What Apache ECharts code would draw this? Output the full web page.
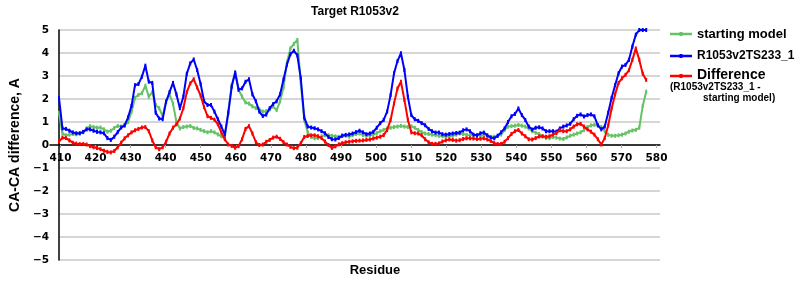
<!DOCTYPE html>
<html>
<head>
<meta charset="utf-8">
<script src="https://cdn.jsdelivr.net/npm/echarts@6/dist/echarts.min.js"></script>
<style>html,body{margin:0;padding:0;background:#fff}#c{width:800px;height:300px}</style>
</head>
<body>
<div id="c"></div>
<script>
// Residue categories (x axis extends past the last data point, as in the reference)
const residues = [
407,408,409,410,411,412,413,414,415,416,417,418,419,420,421,422,423,424,425,426,
427,428,429,430,431,432,433,434,435,436,437,438,439,440,441,442,443,444,445,446,
447,448,449,450,451,452,453,454,455,456,457,458,459,460,461,462,463,464,465,466,
467,468,469,470,471,472,473,474,475,476,477,478,479,480,481,482,483,484,485,486,
487,488,489,490,491,492,493,494,495,496,497,498,499,500,501,502,503,504,505,506,
507,508,509,510,511,512,513,514,515,516,517,518,519,520,521,522,523,524,525,526,
527,528,529,530,531,532,533,534,535,536,537,538,539,540,541,542,543,544,545,546,
547,548,549,550,551,552,553,554,555,556,557,558,559,560,561,562,563,564,565,566,
567,568,569,570,571,572,573,574,575,576,577,578,579,580,581
];

// starting model (residues 407..577)
const startingModel = [
1.4,0.5,0.42,0.45,0.48,0.47,0.5,0.55,0.72,0.82,
0.78,0.75,0.76,0.68,0.58,0.62,0.74,0.83,0.8,0.85,
1.0,1.45,2.05,2.18,2.25,2.58,2.1,2.3,1.74,1.6,
1.25,1.9,2.2,1.8,1.0,0.72,0.78,0.8,0.83,0.74,
0.72,0.66,0.6,0.55,0.6,0.55,0.46,0.38,0.3,1.45,
2.6,3.15,2.4,2.1,1.85,1.8,1.68,1.6,1.55,1.45,
1.47,1.55,1.67,1.52,1.9,2.5,3.6,4.2,4.4,4.57,
2.7,1.1,0.55,0.35,0.29,0.3,0.38,0.42,0.43,0.4,
0.38,0.36,0.42,0.4,0.37,0.43,0.48,0.5,0.43,0.4,
0.42,0.45,0.52,0.6,0.66,0.72,0.75,0.78,0.8,0.83,
0.8,0.78,0.82,0.75,0.65,0.56,0.5,0.48,0.45,0.43,
0.4,0.38,0.36,0.38,0.4,0.45,0.5,0.48,0.44,0.42,
0.43,0.44,0.4,0.43,0.4,0.36,0.36,0.4,0.45,0.65,
0.8,0.82,0.84,0.87,0.84,0.8,0.72,0.6,0.53,0.48,
0.38,0.3,0.3,0.35,0.32,0.28,0.26,0.33,0.4,0.45,
0.5,0.55,0.65,0.78,0.85,0.88,0.87,0.78,0.6,0.44,
0.4,0.4,0.42,0.45,0.5,0.58,0.63,0.66,0.75,1.7,
2.32
];

// R1053v2TS233_1 (residues 407..577)
const modelTS233 = [
2.05,0.72,0.70,0.62,0.55,0.51,0.51,0.57,0.68,0.68,
0.62,0.57,0.55,0.51,0.30,0.22,0.36,0.56,0.76,0.85,
1.2,1.7,2.6,2.65,2.97,3.45,2.75,2.7,1.4,1.15,
1.12,1.88,2.3,2.7,2.2,1.6,2.1,3.1,3.55,3.72,
3.26,2.65,1.9,1.74,1.74,1.45,1.12,0.8,0.45,1.38,
2.54,3.15,2.4,2.46,2.75,2.86,2.2,1.9,1.45,1.26,
1.32,1.6,1.78,1.9,2.2,2.85,3.5,3.95,4.1,3.9,
2.9,1.2,0.8,0.76,0.73,0.68,0.6,0.51,0.35,0.25,
0.24,0.3,0.4,0.44,0.46,0.5,0.56,0.62,0.55,0.47,
0.5,0.57,0.75,0.95,1.09,1.45,2.17,3.12,3.65,3.99,
3.26,2.1,1.3,1.12,1.05,0.95,0.86,0.7,0.6,0.54,
0.54,0.47,0.45,0.48,0.5,0.52,0.54,0.64,0.68,0.6,
0.45,0.42,0.51,0.54,0.42,0.32,0.29,0.4,0.55,0.72,
1.0,1.25,1.35,1.59,1.3,1.09,0.8,0.67,0.75,0.77,
0.72,0.6,0.6,0.6,0.58,0.72,0.8,0.85,0.92,1.12,
1.27,1.33,1.24,1.3,1.33,1.25,0.85,0.68,0.8,1.4,
2.05,2.6,3.12,3.41,3.48,3.7,4.28,4.8,5.0,5.0,
5.0
];

// Difference (R1053v2TS233_1 - starting model), residues 407..577
const difference = [
0.15,0.32,0.3,0.2,0.1,0.06,0.04,0.04,0.02,-0.05,
-0.1,-0.13,-0.18,-0.25,-0.3,-0.32,-0.26,-0.1,0.1,0.29,
0.42,0.55,0.64,0.7,0.76,0.78,0.6,0.2,-0.1,-0.18,
-0.1,0.14,0.5,0.75,0.9,1.15,1.6,2.3,2.68,2.86,
2.5,2.15,1.65,1.25,1.18,1.1,0.9,0.55,0.25,0.02,
-0.04,-0.12,-0.05,0.25,0.7,0.82,0.5,0.12,0.0,0.02,
0.14,0.22,0.32,0.36,0.27,0.12,0.02,-0.08,-0.14,-0.12,
0.08,0.35,0.39,0.42,0.42,0.38,0.3,0.15,0.0,-0.13,
-0.06,0.03,0.08,0.12,0.14,0.16,0.18,0.19,0.2,0.22,
0.24,0.28,0.32,0.36,0.43,0.65,1.09,1.81,2.46,2.75,
1.96,1.1,0.55,0.51,0.5,0.42,0.25,0.12,0.05,0.05,
0.07,0.15,0.2,0.24,0.22,0.19,0.21,0.26,0.29,0.29,
0.28,0.26,0.27,0.29,0.24,0.18,0.08,0.04,0.05,0.14,
0.3,0.48,0.6,0.65,0.5,0.38,0.25,0.24,0.3,0.37,
0.38,0.36,0.38,0.45,0.52,0.64,0.6,0.6,0.68,0.8,
0.9,0.92,0.8,0.68,0.58,0.45,0.25,0.02,0.3,0.85,
1.6,2.2,2.7,2.9,3.05,3.25,3.7,4.2,3.7,3.1,
2.83
];

const yTicks = [-5,-4,-3,-2,-1,0,1,2,3,4,5];
const seriesNames = ['starting model', 'R1053v2TS233_1', 'Difference'];
const colors = ['#66c266', '#0000ff', '#ff0000'];

const chart = echarts.init(document.getElementById('c'), null, {renderer: 'canvas'});
const tickFont = {fontFamily: 'DejaVu Sans', fontWeight: 'bold', fontSize: 10.5, color: '#000'};
const isTen = (idx, v) => Number(v) % 10 === 0;

function mkSeries(i, data, z) {
  return {
    name: seriesNames[i], type: 'line', data: data, z: z,
    xAxisIndex: 0, yAxisIndex: 0,
    symbol: 'rect', symbolSize: [2, 4], showSymbol: true, showAllSymbol: true,
    lineStyle: {color: colors[i], width: 2},
    itemStyle: {color: colors[i]},
    animation: false
  };
}

const legendGraphics = [];
const legendY = [34, 56, 76];
for (let i = 0; i < 3; i++) {
  legendGraphics.push({type: 'line', shape: {x1: 670, y1: legendY[i], x2: 692, y2: legendY[i]}, style: {stroke: colors[i], lineWidth: 2.5}});
  legendGraphics.push({type: 'rect', shape: {x: 679.5, y: legendY[i] - 2, width: 3, height: 4}, style: {fill: colors[i]}});
}
legendGraphics.push({type: 'text', x: 697, y: 34, style: {text: seriesNames[0], font: 'bold 13px "Liberation Sans"', fill: '#000', textVerticalAlign: 'middle'}});
legendGraphics.push({type: 'text', x: 697, y: 56, style: {text: seriesNames[1], font: 'bold 12px "Liberation Sans"', fill: '#000', textVerticalAlign: 'middle'}});
legendGraphics.push({type: 'text', x: 697, y: 75, style: {text: 'Difference', font: 'bold 14px "Liberation Sans"', fill: '#000', textVerticalAlign: 'middle'}});
legendGraphics.push({type: 'text', x: 670, y: 87, style: {text: '(R1053v2TS233_1 -', font: 'bold 10px "Liberation Sans"', fill: '#000', textVerticalAlign: 'middle'}});
legendGraphics.push({type: 'text', x: 703, y: 98, style: {text: 'starting model)', font: 'bold 10px "Liberation Sans"', fill: '#000', textVerticalAlign: 'middle'}});

chart.setOption({
  backgroundColor: '#fff',
  animation: false,
  grid: [
    {left: 50, right: 140, top: 30, bottom: 40, containLabel: false},
    // upper half (0..5) only used to place the residue axis on the zero line
    {left: 50, right: 140, top: 30, bottom: 155, containLabel: false}
  ],
  xAxis: [
    {
      gridIndex: 0, type: 'category', data: residues, boundaryGap: false,
      axisLine: {show: false}, axisTick: {show: false}, axisLabel: {show: false},
      splitLine: {show: false}
    },
    {
      gridIndex: 1, type: 'category', data: residues, boundaryGap: false, position: 'bottom',
      axisLine: {show: true, onZero: false, lineStyle: {color: '#000', width: 1.5}},
      axisTick: {show: true, length: 3, lineStyle: {color: '#aaa'}, interval: isTen},
      axisLabel: Object.assign({interval: isTen, margin: 8}, tickFont),
      splitLine: {show: false}
    }
  ],
  yAxis: [
    {
      gridIndex: 0, type: 'value', min: yTicks[0], max: yTicks[yTicks.length - 1], interval: 1,
      name: 'CA-CA difference, A', nameLocation: 'middle', nameGap: 30, nameRotate: 90,
      nameTextStyle: {fontFamily: 'Liberation Sans', fontWeight: 'bold', fontSize: 14, color: '#000'},
      axisLine: {show: true, lineStyle: {color: '#000', width: 1.5}},
      axisTick: {show: false},
      axisLabel: Object.assign({formatter: v => v < 0 ? '\u2212' + Math.abs(v) : String(v), margin: 10}, tickFont),
      splitLine: {show: true, lineStyle: {color: '#c8c8c8', width: 1.5}}
    },
    {
      gridIndex: 1, type: 'value', min: 0, max: 5, show: false
    }
  ],
  graphic: [
    {type: 'text', x: 355, y: 12, style: {text: 'Target R1053v2', font: 'bold 12px "Liberation Sans"', fill: '#000', textAlign: 'center', textVerticalAlign: 'middle'}},
    {type: 'text', x: 375, y: 270, style: {text: 'Residue', font: 'bold 13px "Liberation Sans"', fill: '#000', textAlign: 'center', textVerticalAlign: 'middle'}}
  ].concat(legendGraphics),
  series: [
    mkSeries(0, startingModel, 2),
    mkSeries(1, modelTS233, 3),
    mkSeries(2, difference, 4)
  ]
});
</script>
</body>
</html>
